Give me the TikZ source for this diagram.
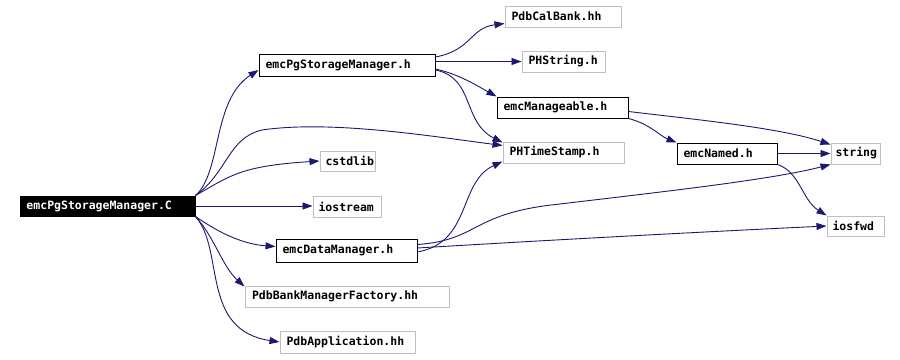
\documentclass[tikz,border=0pt]{standalone}
\usepackage{fontspec}
\setmonofont{DejaVu Sans Mono}
\usetikzlibrary{arrows.meta,calc}
\definecolor{edgec}{HTML}{191970}
\definecolor{grayb}{HTML}{BFBFBF}
\tikzset{
  base/.style={draw, line width=1pt, inner sep=0pt, align=left, font=\ttfamily\bfseries\fontsize{11.5}{12}\selectfont},
  blackbox/.style={base, fill=black, text=white},
  normbox/.style={base, draw=black, fill=white, text=black},
  graybox/.style={base, draw=grayb, fill=white, text=black},
  edge/.style={draw=edgec, line width=0.9pt, -{Triangle[length=10pt,width=7pt]}, fill=none},
}
\begin{document}
\begin{tikzpicture}[x=1pt,y=-1pt]
\useasboundingbox (0,0) rectangle (900,359);
% nodes
\node[blackbox, minimum width=175, text width=162pt, minimum height=20] (C) at (107.5,206) {emcPgStorageManager.C};
\node[normbox, minimum width=176, text width=163pt, minimum height=22] (epsh) at (347,65) {emcPgStorageManager.h};
\node[graybox, minimum width=116, text width=103pt, minimum height=21] (pcb) at (563,16.5) {PdbCalBank.hh};
\node[graybox, minimum width=83, text width=70pt, minimum height=21] (phs) at (563.5,61.5) {PHString.h};
\node[normbox, minimum width=131, text width=118pt, minimum height=21] (ema) at (562.5,107.5) {emcManageable.h};
\node[graybox, minimum width=121, text width=108pt, minimum height=21] (pht) at (563.5,152.5) {PHTimeStamp.h};
\node[normbox, minimum width=100, text width=87pt, minimum height=21] (emn) at (727,153.5) {emcNamed.h};
\node[graybox, minimum width=49, text width=40pt, minimum height=21] (str) at (855.5,153.5) {string};
\node[graybox, minimum width=57, text width=46pt, minimum height=20] (iof) at (855.5,226) {iosfwd};
\node[graybox, minimum width=55, text width=44pt, minimum height=20] (cst) at (347.5,161) {cstdlib};
\node[graybox, minimum width=68, text width=57pt, minimum height=21] (ios) at (347,206.5) {iostream};
\node[normbox, minimum width=141, text width=128pt, minimum height=23] (edm) at (346.5,250.5) {emcDataManager.h};
\node[graybox, minimum width=204, text width=190pt, minimum height=21] (pbmf) at (347,296.5) {PdbBankManagerFactory.hh};
\node[graybox, minimum width=135, text width=122pt, minimum height=22] (papp) at (347.5,342) {PdbApplication.hh};
% edges from C
\draw[edge] (C.north east) .. controls (222,172) and (212,100) .. ($(epsh.west)+(0,5)$);
\draw[edge] (C.north east) .. controls (228,172) and (228,138) .. (262,130) .. controls (330,120) and (430,136) .. ($(pht.north west)+(0,4)$);
\draw[edge] (C.north east) .. controls (230,176) and (240,166) .. (cst.west);
\draw[edge] (C.east) -- (C.east -| ios.west);
\draw[edge] (C.south east) .. controls (215,230) and (240,244) .. ($(edm.west)+(0,-4)$);
\draw[edge] (C.south east) .. controls (215,238) and (222,266) .. ($(pbmf.north west)+(0,1)$);
\draw[edge] (C.south east) .. controls (225,250) and (200,330) .. (papp.west);
% edges from emcPgStorageManager.h
\draw[edge] ($(epsh.east)+(0,-8)$) .. controls (472,50) and (470,28) .. ($(pcb.west)+(0,7)$);
\draw[edge] (epsh.east |- phs.west) -- (phs.west);
\draw[edge] ($(epsh.east)+(0,4)$) .. controls (458,74) and (476,85) .. (ema.north west);
\draw[edge] ($(epsh.east)+(0,5)$) .. controls (475,78) and (462,122) .. ($(pht.north west)+(0,1)$);
% edges from emcManageable.h
\draw[edge] ($(ema.east)+(0,4)$) .. controls (700,120) and (780,128) .. ($(str.north west)+(0,2)$);
\draw[edge] (ema.south east) .. controls (650,124) and (660,136) .. (emn.north west);
% edges from emcNamed.h
\draw[edge] (emn.east) -- (str.west);
\draw[edge] (emn.south east) .. controls (800,172) and (802,200) .. (iof.north west);
% edges from emcDataManager.h
\draw[edge] ($(edm.east)+(0,1.5)$) .. controls (472,242) and (458,182) .. ($(pht.south west)+(0,-2)$);
\draw[edge] ($(edm.east)+(0,-6)$) .. controls (480,240) and (470,213) .. (560,204) .. controls (660,192) and (770,180) .. (str.south west);
\draw[edge] ($(edm.east)+(0,-2.5)$) .. controls (550,240) and (700,232) .. (iof.west);
\end{tikzpicture}
\end{document}
